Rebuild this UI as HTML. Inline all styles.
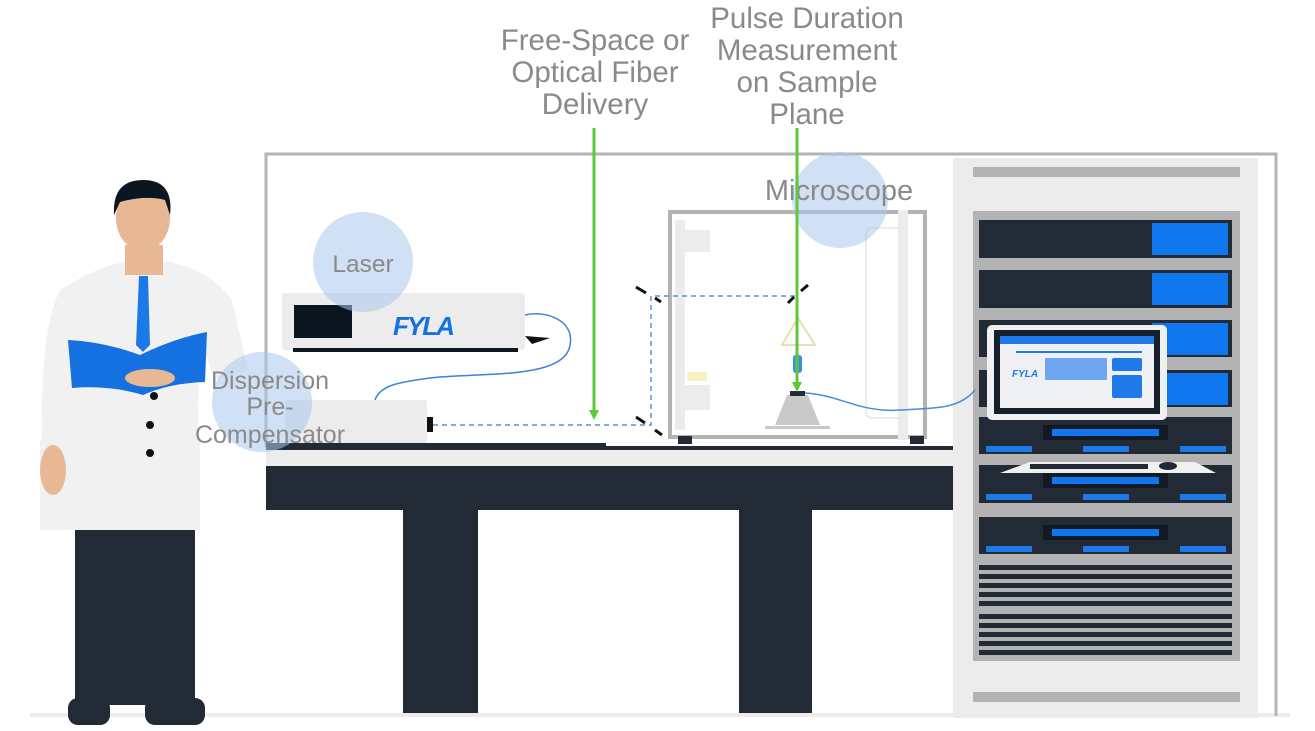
<!DOCTYPE html>
<html><head><meta charset="utf-8"><style>
html,body{margin:0;padding:0;background:#fff;width:1315px;height:731px;overflow:hidden}
svg{display:block}
text{font-family:"Liberation Sans",sans-serif;fill:#8a8a8a}
</style></head><body>
<svg width="1315" height="731" viewBox="0 0 1315 731">
<!-- floor -->
<rect x="30" y="713" width="1260" height="4" fill="#ececec"/>
<!-- enclosure frame -->
<polyline points="266,447 266,154 1276,154 1276,716" fill="none" stroke="#b3b3b3" stroke-width="3"/>
<!-- table -->
<rect x="266" y="446" width="688" height="4" fill="#222a35"/>
<rect x="266" y="450" width="688" height="16" fill="#ececec"/>
<rect x="266" y="466" width="688" height="44" fill="#222a35"/>
<rect x="403" y="510" width="75" height="203" fill="#222a35"/>
<rect x="739" y="510" width="73" height="203" fill="#222a35"/>
<!-- rack -->
<rect x="953" y="158" width="305" height="560" fill="#ececec"/>
<rect x="973" y="167" width="267" height="10" fill="#b3b3b3"/>
<rect x="973" y="692" width="267" height="10" fill="#b3b3b3"/>
<rect x="973" y="211" width="267" height="450" fill="#b3b3b3"/>
<g fill="#222a35">
<rect x="979" y="220" width="253" height="38"/>
<rect x="979" y="270" width="253" height="38"/>
<rect x="979" y="320" width="253" height="37"/>
<rect x="979" y="370" width="253" height="37"/>
<rect x="979" y="417" width="253" height="37"/>
<rect x="979" y="465" width="253" height="38"/>
<rect x="979" y="517" width="253" height="37"/>
</g>
<g fill="#0f76ee">
<rect x="1152" y="223" width="76" height="32"/>
<rect x="1152" y="273" width="76" height="32"/>
<rect x="1152" y="323" width="76" height="32"/>
<rect x="1152" y="373" width="76" height="32"/>
</g>
<g fill="#111a24">
<rect x="1043" y="425" width="125" height="15"/><rect x="1043" y="473" width="125" height="15"/><rect x="1043" y="525" width="125" height="15"/>
</g>
<g fill="#0f76ee">
<rect x="1052" y="429" width="107" height="7"/><rect x="1052" y="477" width="107" height="7"/><rect x="1052" y="529" width="107" height="7"/>
</g>
<g fill="#1e7ae8">
<rect x="986" y="446" width="46" height="6"/><rect x="1083" y="446" width="46" height="6"/><rect x="1180" y="446" width="46" height="6"/>
<rect x="986" y="494" width="46" height="6"/><rect x="1083" y="494" width="46" height="6"/><rect x="1180" y="494" width="46" height="6"/>
<rect x="986" y="546" width="46" height="6"/><rect x="1083" y="546" width="46" height="6"/><rect x="1180" y="546" width="46" height="6"/>
</g>
<g fill="#222a35">
<rect x="979" y="565" width="253" height="5"/><rect x="979" y="574" width="253" height="5"/><rect x="979" y="583" width="253" height="5"/><rect x="979" y="592" width="253" height="5"/><rect x="979" y="601" width="253" height="5"/>
<rect x="979" y="614" width="253" height="5"/><rect x="979" y="623" width="253" height="5"/><rect x="979" y="632" width="253" height="5"/><rect x="979" y="641" width="253" height="5"/><rect x="979" y="650" width="253" height="5"/>
</g>
<!-- keyboard -->
<polygon points="1000,473 1030,462 1195,462 1216,473" fill="#f0f0f0"/>
<rect x="1030" y="464" width="118" height="5" fill="#222a35"/>
<ellipse cx="1168" cy="466" rx="9" ry="4" fill="#222a35"/>
<!-- monitor -->
<rect x="987" y="325" width="180" height="95" rx="5" fill="#f0f0f0"/>
<rect x="994" y="330" width="166" height="84" fill="#15202c"/>
<rect x="1000" y="336" width="154" height="72" fill="#eef0f4"/>
<rect x="1000" y="336" width="154" height="8" fill="#1f7ae8"/>
<rect x="1016" y="351" width="126" height="2" fill="#1f7ae8"/>
<rect x="1045" y="358" width="62" height="22" fill="#6ea6ef"/>
<rect x="1112" y="358" width="30" height="13" rx="2" fill="#1f7ae8"/>
<rect x="1112" y="375" width="30" height="23" rx="2" fill="#1f7ae8"/>
<text x="1012" y="377" font-size="10" font-weight="bold" style="fill:#1f7ae8;font-style:italic">FYLA</text>
<!-- microscope enclosure -->
<rect x="670" y="212" width="255" height="225" fill="none" stroke="#b3b3b3" stroke-width="4"/>
<rect x="675" y="220" width="10" height="210" fill="#ececec"/>
<rect x="675" y="230" width="35" height="22" fill="#ececec"/>
<rect x="675" y="385" width="35" height="25" fill="#ececec"/>
<rect x="866" y="228" width="40" height="190" rx="6" fill="none" stroke="#ececec" stroke-width="2"/>
<rect x="898" y="210" width="10" height="230" fill="#ececec"/>
<rect x="678" y="436" width="14" height="8" fill="#222a35"/>
<rect x="910" y="436" width="14" height="8" fill="#222a35"/>
<rect x="688" y="373" width="18" height="7" fill="#fbf4c6" stroke="#efe6a0"/>
<polygon points="798,318 782,345 815,345" fill="none" stroke="#e5e0b0" stroke-width="2"/>
<rect x="793" y="355" width="9" height="18" rx="3" fill="#3d8fe6"/>
<polygon points="787,395 808,395 820,425 775,425" fill="#c9c9c9"/>
<rect x="765" y="426" width="65" height="3" fill="#c9c9c9"/>
<rect x="790" y="391" width="15" height="5" fill="#222a35"/>
<path d="M805,393 C840,395 860,413 900,410 C940,408 960,408 975,390" fill="none" stroke="#4a8cd8" stroke-width="1.5"/>
<!-- beam path -->
<polyline points="433,425 651,425 651,296 797,296" fill="none" stroke="#5b94c8" stroke-width="1.5" stroke-dasharray="5,4"/>
<g stroke="#111" stroke-width="3">
<line x1="636" y1="287" x2="646" y2="293"/><line x1="655" y1="298" x2="661" y2="302"/>
<line x1="636" y1="417" x2="645" y2="423"/><line x1="655" y1="430" x2="662" y2="435"/>
<line x1="788" y1="303" x2="794" y2="297"/><line x1="801" y1="291" x2="808" y2="285"/>
</g>
<!-- laser -->
<rect x="282" y="293" width="243" height="57" rx="3" fill="#ececec"/>
<rect x="294" y="305" width="58" height="33" fill="#0c1620"/>
<rect x="293" y="348" width="225" height="4" fill="#0c1620"/>
<text x="393" y="335" font-size="26" font-weight="bold" style="fill:#1570e0;font-style:italic;letter-spacing:-2px">FYLA</text>
<path d="M525,315 C545,310 575,320 570,345 C565,380 480,372 430,378 C400,382 380,385 375,400" fill="none" stroke="#3b82d8" stroke-width="1.5"/>
<polygon points="525,336 550,338 532,344" fill="#111"/>
<!-- compensator -->
<rect x="285" y="400" width="142" height="43" rx="2" fill="#ececec"/>
<rect x="427" y="417" width="6" height="15" fill="#111"/>
<rect x="266" y="443" width="340" height="4" fill="#222a35"/>
<!-- person -->
<path d="M60,290 Q100,265 125,262 L170,262 Q210,270 232,300 L248,370 L215,380 L200,340 L195,530 L40,530 L42,440 Q40,330 60,290 Z" fill="#f1f1f1"/>
<rect x="75" y="525" width="120" height="180" fill="#222a35"/>
<rect x="68" y="698" width="42" height="27" rx="10" fill="#222a35"/>
<rect x="145" y="698" width="60" height="27" rx="10" fill="#222a35"/>
<rect x="40" y="440" width="160" height="90" fill="#f1f1f1"/>
<ellipse cx="53" cy="470" rx="13" ry="25" fill="#e8b895"/>
<rect x="125" y="245" width="38" height="30" fill="#e8b895"/>
<ellipse cx="143" cy="218" rx="27" ry="33" fill="#e8b895"/>
<path d="M114,215 Q112,180 143,180 Q174,180 170,215 L165,200 Q145,195 120,202 Z" fill="#0c1620"/>
<polygon points="139,276 148,276 150,345 143,352 136,345" fill="#1b7ae8"/>
<path d="M68,340 Q105,342 140,355 Q175,338 207,332 L205,382 Q170,383 143,395 Q110,385 72,388 Z" fill="#1570e0"/>
<ellipse cx="150" cy="378" rx="25" ry="9" fill="#e8b895"/>
<circle cx="154" cy="396" r="4" fill="#111"/><circle cx="150" cy="425" r="4" fill="#111"/><circle cx="150" cy="453" r="4" fill="#111"/>
<!-- bubbles -->
<circle cx="363" cy="262" r="50" fill="#a9c8ec" opacity="0.55"/>
<circle cx="262" cy="402" r="50" fill="#a9c8ec" opacity="0.55"/>
<circle cx="840" cy="200" r="48" fill="#a9c8ec" opacity="0.55"/>
<!-- labels -->
<text x="363" y="272" font-size="24.5" text-anchor="middle">Laser</text>
<text x="270" y="389" font-size="25" text-anchor="middle">Dispersion</text>
<text x="270" y="415" font-size="25" text-anchor="middle">Pre-</text>
<text x="270" y="443" font-size="25" text-anchor="middle">Compensator</text>
<text x="839" y="200" font-size="29" text-anchor="middle">Microscope</text>
<g font-size="29.5" text-anchor="middle">
<text x="595" y="50">Free-Space or</text>
<text x="595" y="82">Optical Fiber</text>
<text x="595" y="114">Delivery</text>
<text x="807" y="28">Pulse Duration</text>
<text x="807" y="60">Measurement</text>
<text x="807" y="92">on Sample</text>
<text x="807" y="124">Plane</text>
</g>
<!-- green arrows -->
<line x1="594" y1="128" x2="594" y2="412" stroke="#5dc83a" stroke-width="3"/>
<polygon points="589,410 599,410 594,420" fill="#5dc83a"/>
<line x1="797" y1="128" x2="797" y2="384" stroke="#5dc83a" stroke-width="3"/>
<polygon points="792,382 802,382 797,392" fill="#5dc83a"/>
</svg>
</body></html>
